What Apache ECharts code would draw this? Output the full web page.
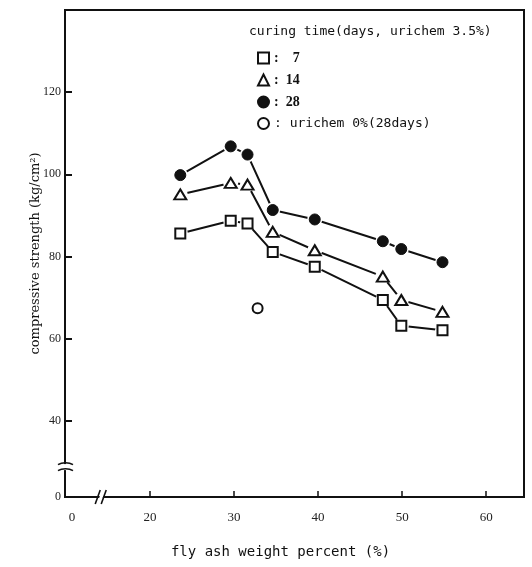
<!DOCTYPE html>
<html>
<head>
<meta charset="utf-8">
<script src="https://cdn.jsdelivr.net/npm/echarts@6/dist/echarts.min.js"></script>
<style>
  html, body { margin: 0; padding: 0; background: #fff; }
  #chart { width: 532px; height: 567px; }
</style>
</head>
<body>
<div id="chart"></div>
<script>
// Fly ash content (weight %) of each mix
const flyAshPercent = [23.6, 29.6, 31.6, 34.6, 39.6, 47.7, 49.9, 54.8];
// Compressive strength (kg/cm²) with urichem 3.5 %, by curing time
const strength7 = [85.6, 88.7, 88.0, 81.1, 77.5, 69.4, 63.1, 62.0];
const strength14 = [95.1, 97.9, 97.5, 86.0, 81.5, 75.1, 69.4, 66.5];
const strength28 = [99.8, 106.8, 104.8, 91.3, 89.0, 83.7, 81.8, 78.6];
// Reference mix without urichem, 28 days
const plainPercent = [32.8];
const plainStrength28 = [67.4];
// Tick labels
const xTickLabels = [0, 20, 30, 40, 50, 60];
const xTickMarks = [20, 30, 40, 50, 60];
const yTickLabels = [0, 40, 60, 80, 100, 120];
const yTickMarks = [40, 60, 80, 100, 120];
// Series names as shown in the key
const curingNames = ['7', '14', '28'];
const plainName = 'urichem 0%(28days)';

const INK = '#111';
const MONO = "'DejaVu Sans Mono', monospace";
const SERIF = "'Liberation Serif', serif";

function pairs(xs, ys) { return xs.map((x, i) => [x, ys[i]]); }

const markerDefs = [
  { name: curingNames[0], ys: strength7, symbol: 'rect', size: 10, filled: false },
  { name: curingNames[1], ys: strength14, symbol: 'triangle', size: [12, 10], filled: false },
  { name: curingNames[2], ys: strength28, symbol: 'circle', size: 11, filled: true }
];

const series = [];
markerDefs.forEach(d => {
  // connecting line
  series.push({
    name: d.name + '-line', type: 'line', data: pairs(flyAshPercent, d.ys),
    showSymbol: false, silent: true, z: 2,
    lineStyle: { color: INK, width: 2 }
  });
  // white halo that opens a gap in the line around each marker
  series.push({
    name: d.name + '-halo', type: 'scatter', data: pairs(flyAshPercent, d.ys),
    symbol: 'circle', symbolSize: 15, silent: true, z: 3,
    itemStyle: { color: '#fff', borderWidth: 0, opacity: 1 }
  });
  // the markers
  series.push({
    name: d.name, type: 'scatter', data: pairs(flyAshPercent, d.ys),
    symbol: d.symbol, symbolSize: d.size, z: 4,
    itemStyle: d.filled
      ? { color: INK, borderColor: INK, borderWidth: 1, opacity: 1 }
      : { color: '#fff', borderColor: INK, borderWidth: 2, opacity: 1 }
  });
});
series.push({
  name: plainName, type: 'scatter', data: pairs(plainPercent, plainStrength28),
  symbol: 'circle', symbolSize: 10, z: 4,
  itemStyle: { color: '#fff', borderColor: INK, borderWidth: 2, opacity: 1 }
});

const chart = echarts.init(document.getElementById('chart'), null, { renderer: 'canvas' });

chart.setOption({
  animation: false,
  backgroundColor: '#fff',
  title: {
    text: 'curing time(days, urichem 3.5%)',
    left: 244, top: 20,
    textStyle: { fontFamily: MONO, fontSize: 13, fontWeight: 'normal', color: INK }
  },
  legend: {
    orient: 'vertical', left: 252, top: 46,
    itemWidth: 11, itemHeight: 11, itemGap: 8,
    data: [
      { name: curingNames[0], icon: 'rect' },
      { name: curingNames[1], icon: 'triangle' },
      { name: curingNames[2], icon: 'circle' },
      { name: plainName, icon: 'circle' }
    ],
    formatter: name => name === plainName
      ? '{m|: ' + name + '}'
      : '{s|:  ' + (name.length === 1 ? '\u2007' : '') + name + '}',
    textStyle: {
      color: INK,
      rich: {
        m: { fontFamily: MONO, fontSize: 13, color: INK },
        s: { fontFamily: SERIF, fontSize: 14, fontWeight: 'bold', color: INK }
      }
    }
  },
  grid: {
    left: 65, right: 8, top: 10, bottom: 70,
    show: true, borderColor: INK, borderWidth: 2, backgroundColor: 'transparent'
  },
  xAxis: {
    type: 'value', min: 0, max: 64.5,
    breaks: [{ start: 1, end: 17.5, gap: 6.62 }],
    breakArea: { show: false },
    axisLine: { show: true, onZero: false, lineStyle: { color: INK, width: 2 } },
    axisTick: { show: true, inside: true, length: 6, customValues: xTickMarks,
                lineStyle: { color: INK, width: 1.5 } },
    axisLabel: {
      customValues: xTickLabels, margin: 14, color: '#222',
      fontFamily: SERIF, fontSize: 13,
      formatter: v => (v === 0 ? '{z|0}' : String(v)),
      rich: { z: { fontFamily: SERIF, fontSize: 13, color: '#222', padding: [0, 0, 0, 14] } }
    },
    splitLine: { show: false },
    name: 'fly ash weight percent (%)',
    nameLocation: 'middle', nameGap: 48, nameMoveOverlap: false,
    nameTextStyle: { fontFamily: MONO, fontSize: 14, color: INK, padding: [0, 28, 0, 0] }
  },
  yAxis: {
    type: 'value', min: 0, max: 140,
    breaks: [{ start: 3, end: 33, gap: 8.57 }],
    breakArea: { show: false },
    axisLine: { show: true, onZero: false, lineStyle: { color: INK, width: 2 } },
    axisTick: { show: true, inside: true, length: 7, customValues: yTickMarks,
                lineStyle: { color: INK, width: 2 } },
    axisLabel: { customValues: yTickLabels, margin: 4, color: '#222',
                 fontFamily: SERIF, fontSize: 12 },
    splitLine: { show: false },
    name: 'compressive strength (kg/cm²)',
    nameLocation: 'middle', nameGap: 23, nameRotate: 90, nameMoveOverlap: false,
    nameTextStyle: { fontFamily: "'DejaVu Serif', serif", fontSize: 13, color: INK }
  },
  series: series
});

// Break marks drawn where the axes skip a range
function drawBreakMarks() {
  const yAxisX = chart.convertToPixel({ xAxisIndex: 0 }, 0);
  const xAxisY = chart.convertToPixel({ yAxisIndex: 0 }, 0);
  const yb = (chart.convertToPixel({ yAxisIndex: 0 }, 3) + chart.convertToPixel({ yAxisIndex: 0 }, 33)) / 2;
  const xb = (chart.convertToPixel({ xAxisIndex: 0 }, 1) + chart.convertToPixel({ xAxisIndex: 0 }, 17.5)) / 2;
  const stroke = { stroke: INK, lineWidth: 1.6 };
  chart.setOption({
    graphic: [
      // vertical axis: "=" break
      { type: 'rect', shape: { x: yAxisX - 3, y: yb - 3, width: 6, height: 6 },
        style: { fill: '#fff' }, z: 100 },
      { type: 'bezierCurve', shape: { x1: yAxisX - 7, y1: yb - 2.5, x2: yAxisX + 8, y2: yb - 2.5,
        cpx1: yAxisX - 3, cpy1: yb - 5, cpx2: yAxisX + 4, cpy2: yb - 5 },
        style: Object.assign({ fill: null }, stroke), z: 101 },
      { type: 'bezierCurve', shape: { x1: yAxisX - 7, y1: yb + 3.5, x2: yAxisX + 8, y2: yb + 3.5,
        cpx1: yAxisX - 3, cpy1: yb + 1, cpx2: yAxisX + 4, cpy2: yb + 1 },
        style: Object.assign({ fill: null }, stroke), z: 101 },
      // horizontal axis: "//" break
      { type: 'polygon', shape: { points: [[xb - 3, xAxisY + 4], [xb + 0.5, xAxisY + 4],
        [xb + 3, xAxisY - 4], [xb - 0.5, xAxisY - 4]] },
        style: { fill: '#fff' }, z: 100 },
      { type: 'line', shape: { x1: xb - 6, y1: xAxisY + 7, x2: xb - 1, y2: xAxisY - 7 },
        style: stroke, z: 101 },
      { type: 'line', shape: { x1: xb + 0, y1: xAxisY + 7, x2: xb + 5, y2: xAxisY - 7 },
        style: stroke, z: 101 }
    ]
  });
}
drawBreakMarks();
</script>
</body>
</html>
